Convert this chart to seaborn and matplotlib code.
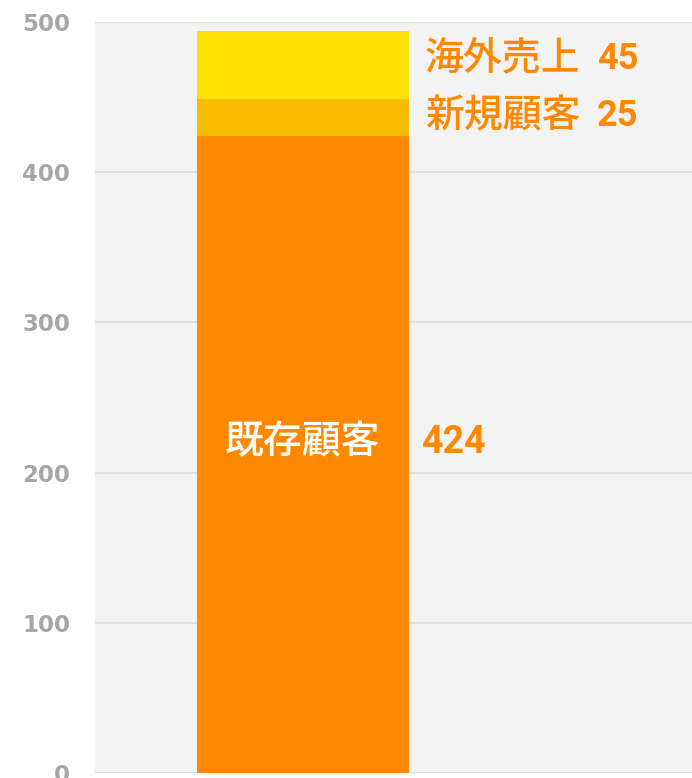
import numpy as np
import pandas as pd
import matplotlib
matplotlib.use("Agg")
import matplotlib.pyplot as plt
import seaborn as sns

# data (bottom to top)
segments = ['既存顧客', '新規顧客', '海外売上']
values = [424, 25, 45]
colors = ['#FF8800', '#F8BC00', '#FFE100']
yticks = [0, 100, 200, 300, 400, 500]

sns.set_style('white')
plt.rcParams['font.family'] = ['Noto Sans CJK JP', 'DejaVu Sans']

fig = plt.figure(figsize=(6.92, 7.78), dpi=100)
ax = fig.add_axes([95 / 692, 5 / 778, 597 / 692, 751 / 778])
ax.set_facecolor('#F3F3F3')

tops = np.cumsum(values)
bottoms = tops - np.array(values)

# stacked bar: draw cumulative totals from the top down so they overlap
for i in reversed(range(len(values))):
    df = pd.DataFrame({'cat': ['total'], 'val': [tops[i]]})
    sns.barplot(data=df, x='cat', y='val', color=colors[i], width=1.0,
                saturation=1, linewidth=0, ax=ax, zorder=3)

ax.set_xlim(-0.98, 1.835)
ax.set_ylim(0, 500)
ax.set_yticks(yticks)
ax.set_xticks([])
ax.set_xlabel('')
ax.set_ylabel('')
ax.grid(axis='y', color='#DDDDDD', linewidth=1.2, zorder=0)
for s in ax.spines.values():
    s.set_visible(False)
ax.tick_params(axis='y', length=0, pad=18)
for lab in ax.get_yticklabels():
    lab.set_fontfamily(['DejaVu Sans'])
    lab.set_fontweight('bold')
    lab.set_fontsize(16.5)
    lab.set_color('#A6A6A6')

orange = '#FF8800'
# big segment: name inside, value on the right
mid0 = (bottoms[0] + tops[0]) / 2
ax.text(0, mid0 + 8, segments[0], color='white', fontsize=28,
        fontweight='medium', ha='center', va='center', zorder=4)
ax.text(0.56, mid0 + 8, str(values[0]), color=orange, fontsize=27,
        fontweight='bold', fontfamily=['Roboto', 'DejaVu Sans'],
        ha='left', va='center', zorder=4)

# small segments: name + value on the right
nudges = [0, 1, 4]
for i in [1, 2]:
    mid = (bottoms[i] + tops[i]) / 2 + nudges[i]
    ax.text(0.575, mid, segments[i], color=orange, fontsize=28,
            fontweight='medium', ha='left', va='center', zorder=4)
    ax.text(1.387, mid, str(values[i]), color=orange, fontsize=26,
            fontweight='bold', fontfamily=['Roboto', 'DejaVu Sans'],
            ha='left', va='center', zorder=4)

fig.savefig('out.png', dpi=100)
